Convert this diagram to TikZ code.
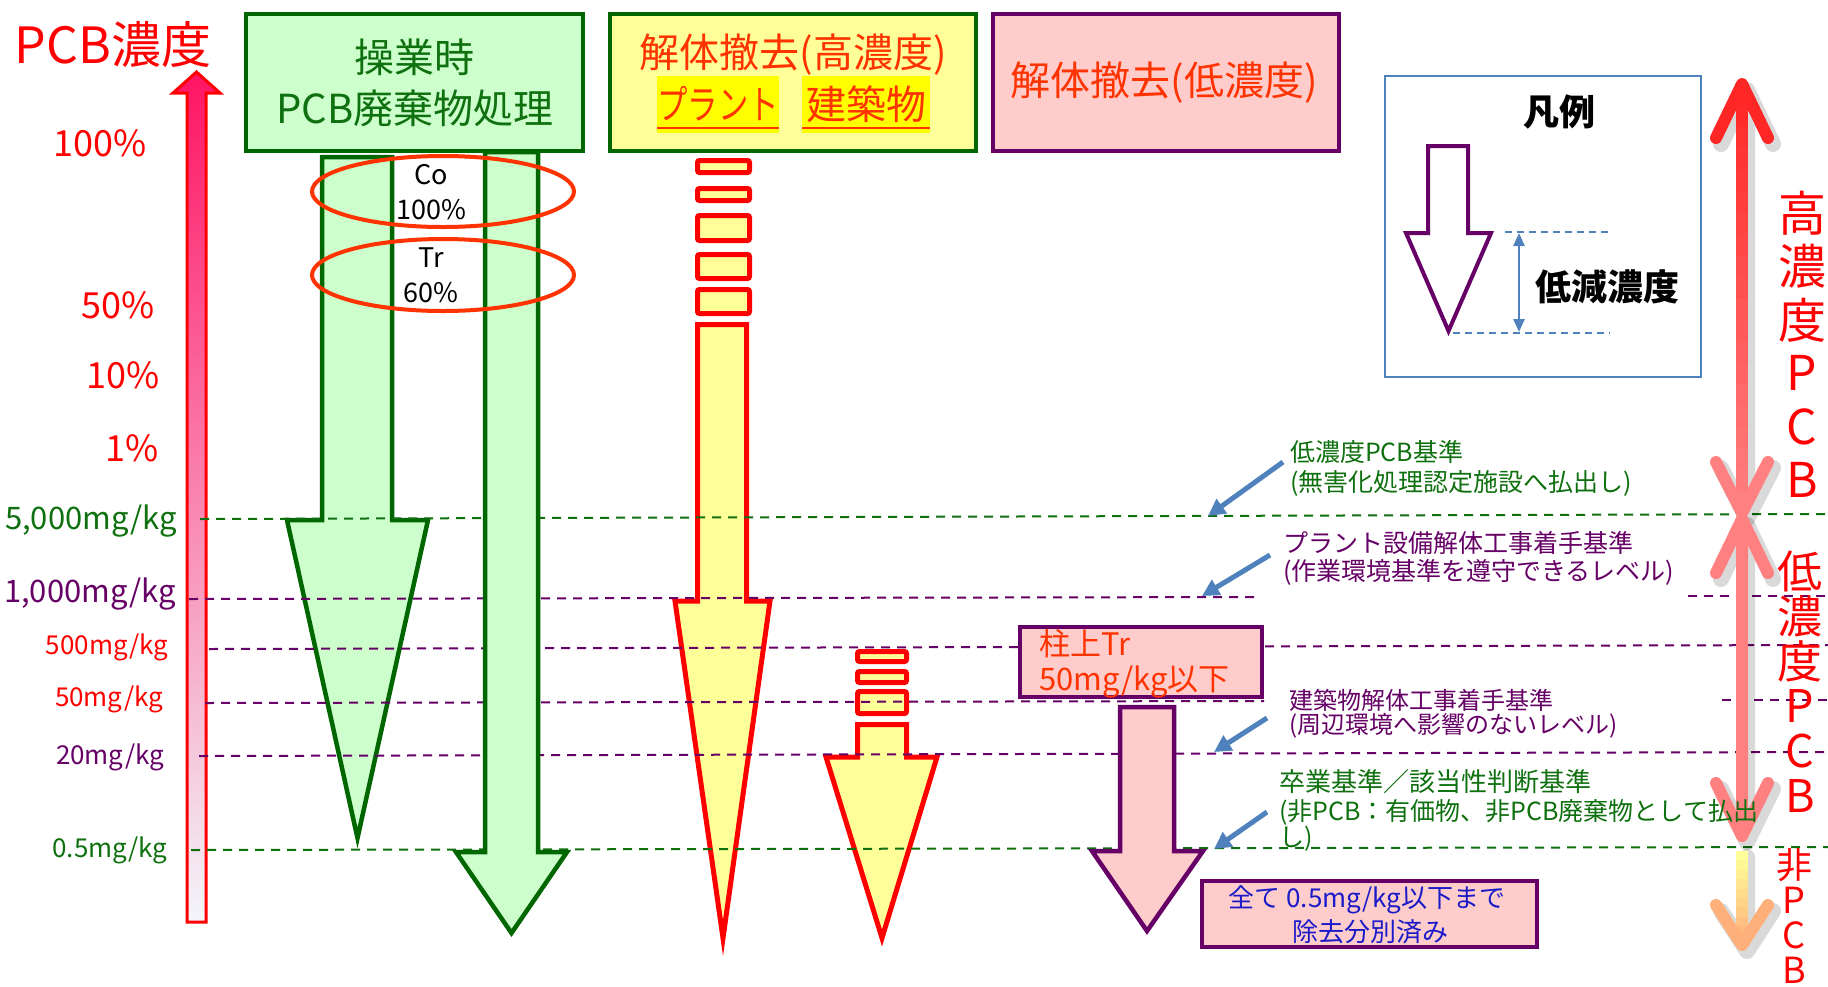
\documentclass[tikz,border=0pt]{standalone}
\usepackage{fontspec}
\setmainfont{Noto Sans CJK JP}
\usetikzlibrary{arrows.meta}
\definecolor{dgreen}{HTML}{006600}
\definecolor{tgreen}{HTML}{0E700E}
\definecolor{lgreen}{HTML}{CCFFCC}
\definecolor{purp}{HTML}{660066}
\definecolor{redor}{HTML}{FF3300}
\definecolor{lyellow}{HTML}{FFFF99}
\definecolor{hilite}{HTML}{FFFF00}
\definecolor{lpink}{HTML}{FFCCCC}
\definecolor{sblue}{HTML}{4F81BD}
\definecolor{tblue}{HTML}{1A1AC8}
\definecolor{hpink}{HTML}{FF1464}
\definecolor{mpink}{HTML}{F8B4C4}
\definecolor{bwhite}{HTML}{F3F5FA}
\definecolor{arA}{HTML}{FF2626}
\definecolor{arB}{HTML}{FF8080}
\definecolor{arCt}{HTML}{FFFF99}
\definecolor{arCb}{HTML}{FFB07A}
\newcommand{\fsz}[1]{\fontsize{#1}{#1}\selectfont}
\tikzset{
  lvl/.style={line width=2pt, dash pattern=on 9pt off 7pt},
  txt/.style={inner sep=0pt, outer sep=0pt},
  gshape/.style={draw=dgreen, fill=lgreen, line width=4.5pt},
  yshape/.style={draw=red, fill=lyellow, line width=5pt},
  pshape/.style={draw=purp, fill=lpink, line width=4.5pt},
  blk/.style={draw=red, fill=lyellow, line width=5pt, rounded corners=2pt},
  note/.style={sblue, line width=5pt, -{Triangle[length=17pt,width=17pt]}},
  bigarr/.style={line width=12pt, line cap=round, line join=round},
  shad/.style={black, opacity=0.15, line width=16pt, line cap=round, line join=round},
}
\begin{document}
\begin{tikzpicture}[x=1pt,y=-1pt]
\useasboundingbox (0,0) rectangle (1828,986);
\fill[white] (0,0) rectangle (1828,986);

% ---------- left concentration arrow ----------
\draw[red, line width=3pt, top color=hpink, middle color=mpink, bottom color=bwhite]
  (187,922) -- (187,93) -- (173,93) -- (196.5,72) -- (220,93) -- (206,93) -- (206,922) -- cycle;
\node[txt, red, font=\fsz{50}] (ttl) at (113,45) {PCB濃度};
\node[txt, red, font=\fsz{36}] (p100) at (100,143) {100\%};
\node[txt, red, font=\fsz{36}] (p50) at (118,305) {50\%};
\node[txt, red, font=\fsz{36}] (p10) at (123,375) {10\%};
\node[txt, red, font=\fsz{36}] (p1) at (132,448) {1\%};
\node[txt, tgreen, font=\fsz{31}] (m5000) at (91,521) {5,000mg/kg};
\node[txt, purp, font=\fsz{31}] (m1000) at (90,594) {1,000mg/kg};
\node[txt, red, font=\fsz{26}] (m500) at (107,647) {500mg/kg};
\node[txt, red, font=\fsz{26}] (m50) at (109,699) {50mg/kg};
\node[txt, purp, font=\fsz{26}] (m20) at (110,757) {20mg/kg};
\node[txt, tgreen, font=\fsz{26}] (m05) at (110,850) {0.5mg/kg};

% ---------- header boxes ----------
\draw[gshape, line width=4pt] (246,14) rectangle (583,151);
\node[txt, tgreen, font=\fsz{40}] (g1) at (414,57) {操業時};
\node[txt, tgreen, font=\fsz{40}] (g2) at (415,108) {PCB廃棄物処理};

\draw[draw=dgreen, fill=lyellow, line width=4pt] (610,14) rectangle (976,151);
\node[txt, redor, font=\fsz{40}] (y1) at (793,55) {解体撤去(高濃度)};
\fill[hilite] (657,76) rectangle (779,133);
\fill[hilite] (802,76) rectangle (930,133);
\node[txt, redor, font=\fsz{40}] (y2) at (718,104) {\scalebox{0.76}[1]{プラント}};
\node[txt, redor, font=\fsz{40}] (y3) at (866,104) {建築物};
\draw[redor, line width=2pt] (657,128) -- (779,128);
\draw[redor, line width=2pt] (802,128) -- (930,128);

\draw[pshape, line width=4pt] (993,14) rectangle (1339,151);
\node[txt, redor, font=\fsz{40}] (pk) at (1164,83) {解体撤去(低濃度)};

% ---------- green (operation) arrows ----------
\draw[gshape] (322,157) -- (392,157) -- (392,520) -- (428,520) -- (357.5,838) -- (287,520) -- (322,520) -- cycle;

% yellow plant arrow
\draw[blk] (697.5,160.5) rectangle (749.5,172.5);
\draw[blk] (697.5,188.5) rectangle (749.5,200.5);
\draw[blk] (697.5,215.5) rectangle (749.5,240.5);
\draw[blk] (697.5,254.5) rectangle (749.5,278.5);
\draw[blk] (697.5,289.5) rectangle (749.5,313.5);
\draw[yshape] (697.5,324.5) -- (746.5,324.5) -- (746.5,601) -- (770,601) -- (723,938) -- (675,601) -- (697.5,601) -- cycle;

% yellow building arrow
\draw[blk] (857.5,651.5) rectangle (906.5,661.5);
\draw[blk] (857.5,671.5) rectangle (906.5,682.5);
\draw[blk] (857.5,691.5) rectangle (906.5,713.5);
\draw[yshape] (857.5,724.5) -- (906.5,724.5) -- (906.5,757) -- (937,757) -- (882,938) -- (826,757) -- (857.5,757) -- cycle;

% ---------- level lines ----------
\draw[lvl, tgreen] (200,519) -- (1828,514);
\draw[lvl, purp] (189,599) -- (1259,597);
\draw[lvl, purp] (1688,596) -- (1828,596);
\draw[lvl, purp] (209,649) -- (1828,645);
\draw[lvl, purp] (205,703) -- (1264,701);
\draw[lvl, purp] (1722,700) -- (1828,700);
\draw[lvl, purp] (199,756) -- (1828,752);
\draw[lvl, tgreen] (191,850) -- (1828,847);

% long green arrow
\draw[gshape] (485,152) -- (538,152) -- (538,852) -- (567,852) -- (511.5,933) -- (456,852) -- (485,852) -- cycle;

% Co / Tr
\node[txt, black, font=\fsz{27}] (co) at (431,175) {Co};
\node[txt, black, font=\fsz{27}] (co2) at (431,210) {100\%};
\node[txt, black, font=\fsz{27}] (tr) at (431,258) {Tr};
\node[txt, black, font=\fsz{27}] (tr2) at (431,293) {60\%};
\draw[redor, line width=4pt] (443,191.5) ellipse [x radius=131, y radius=35.5];
\draw[redor, line width=4pt] (443,275) ellipse [x radius=131, y radius=36];

% ---------- low concentration ----------
\draw[pshape, line width=4pt] (1020,627) rectangle (1262,697);
\node[txt, redor, font=\fsz{31}, anchor=west] (ch1) at (1039,644) {柱上Tr};
\node[txt, redor, font=\fsz{31}, anchor=west] (ch2) at (1039,682) {50mg/kg以下};
\draw[pshape] (1120,707) -- (1174,707) -- (1174,851) -- (1203,851) -- (1147,931) -- (1092,851) -- (1120,851) -- cycle;

\draw[pshape, line width=4pt] (1202,881) rectangle (1537,947);
\node[txt, tblue, font=\fsz{26}] (fin1) at (1367,900) {全て 0.5mg/kg以下まで};
\node[txt, tblue, font=\fsz{26}] (fin2) at (1370,932) {除去分別済み};

% ---------- right double arrows ----------
\begin{scope}[shift={(5,6)}]
  \draw[shad] (1742,84) -- (1742,513) (1716,138) -- (1742,84) -- (1768,138) (1716,462) -- (1742,513) -- (1768,462);
  \draw[shad] (1742,519) -- (1742,836) (1716,573) -- (1742,519) -- (1768,573) (1716,783) -- (1742,836) -- (1768,783);
  \draw[shad] (1742,851) -- (1742,945) (1716,905) -- (1742,945) -- (1768,905);
\end{scope}
\foreach \i in {0,...,19}{
  \pgfmathtruncatemacro\p{round(100*\i/19)}
  \draw[line width=12pt, color=arB!\p!arA] (1742,{84+\i*21.45}) -- (1742,{84+(\i+1)*21.45});
}
\draw[bigarr, arA] (1716,138) -- (1742,84) -- (1768,138);
\draw[bigarr, arB] (1716,462) -- (1742,513) -- (1768,462);
\draw[bigarr, arB] (1742,519) -- (1742,836) (1716,573) -- (1742,519) -- (1768,573) (1716,783) -- (1742,836) -- (1768,783);
\foreach \i in {0,...,9}{
  \pgfmathtruncatemacro\p{round(100*\i/9)}
  \draw[line width=12pt, color=arCb!\p!arCt] (1742,{851+\i*9.4}) -- (1742,{851+(\i+1)*9.4});
}
\draw[bigarr, arCb] (1716,905) -- (1742,945) -- (1768,905);

\foreach \c [count=\i from 0] in {高,濃,度,P,C,B}
  \node[txt, red, font=\fsz{48}] (hi\i) at (1802,{213+53.4*\i}) {\c};
\foreach \c [count=\i from 0] in {低,濃,度,P,C,B}
  \node[txt, red, font=\fsz{45}] (lo\i) at (1800,{571+45*\i}) {\c};
\foreach \c [count=\i from 0] in {非,P,C,B}
  \node[txt, red, font=\fsz{36}] (np\i) at (1794,{865+35*\i}) {\c};

% ---------- annotations ----------
\node[txt, tgreen, font=\fsz{25}, anchor=west] (a1) at (1290,452) {低濃度PCB基準};
\node[txt, tgreen, font=\fsz{25}, anchor=west] (a1b) at (1290,483) {(無害化処理認定施設へ払出し)};
\node[txt, purp, font=\fsz{25}, anchor=west] (a2) at (1283,543) {プラント設備解体工事着手基準};
\node[txt, purp, font=\fsz{25}, anchor=west] (a2b) at (1283,572) {(作業環境基準を遵守できるレベル)};
\node[txt, purp, font=\fsz{24}, anchor=west] (a3) at (1289,700) {建築物解体工事着手基準};
\node[txt, purp, font=\fsz{24}, anchor=west] (a3b) at (1289,726) {(周辺環境へ影響のないレベル)};
\node[txt, tgreen, font=\fsz{26}, anchor=west] (a4) at (1279,782) {卒業基準／該当性判断基準};
\node[txt, tgreen, font=\fsz{25}, anchor=west] (a4b) at (1279,812) {(非PCB：有価物、非PCB廃棄物として払出};
\node[txt, tgreen, font=\fsz{25}, anchor=west] (a4c) at (1279,839) {し)};
\coordinate (b1s) at (1283,462); \coordinate (b1e) at (1208,516);
\coordinate (b2s) at (1270,555); \coordinate (b2e) at (1202,596);
\coordinate (b3s) at (1267,718); \coordinate (b3e) at (1214,752);
\coordinate (b4s) at (1267,812); \coordinate (b4e) at (1214,849);
\draw[note] (b1s) -- (b1e);
\draw[note] (b2s) -- (b2e);
\draw[note] (b3s) -- (b3e);
\draw[note] (b4s) -- (b4e);

% ---------- legend ----------
\draw[sblue, line width=2pt, fill=white] (1385,76) rectangle (1701,377);
\node[txt, black, font=\fsz{36}\bfseries] (lg) at (1559,112) {凡例};
\draw[purp, fill=white, line width=4pt] (1428,146) -- (1468,146) -- (1468,233) -- (1491,233) -- (1448.5,331) -- (1406,233) -- (1428,233) -- cycle;
\draw[sblue, line width=1.5pt, dash pattern=on 7pt off 5pt] (1505,232) -- (1610,232);
\draw[sblue, line width=1.5pt, dash pattern=on 7pt off 5pt] (1453,333) -- (1610,333);
\coordinate (lgt) at (1519,233); \coordinate (lgb) at (1519,332);
\draw[sblue, line width=2.5pt, {Triangle[length=13pt,width=11pt]}-{Triangle[length=13pt,width=11pt]}] (lgt) -- (lgb);
\node[txt, black, font=\fsz{36}\bfseries] (lgr) at (1607,287) {低減濃度};
\end{tikzpicture}
\end{document}
